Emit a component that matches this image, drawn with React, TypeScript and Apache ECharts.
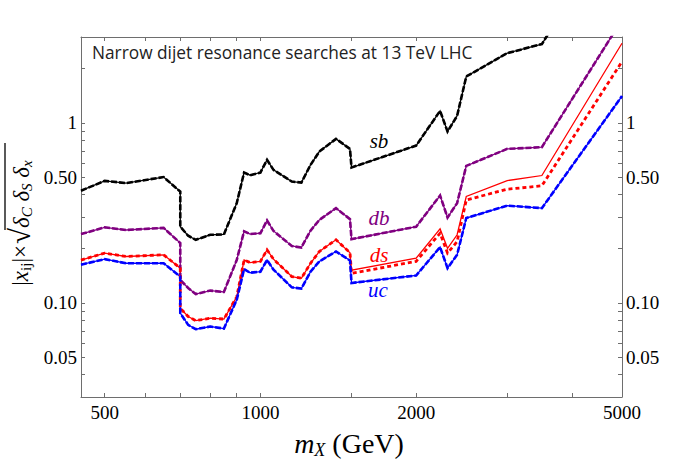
import React, { useEffect, useRef } from "react";
import * as echarts from "echarts";

// Resonance mass (GeV)
const massGeV = [450, 500, 550, 650, 700, 700, 725, 750, 800, 850, 900, 930, 955, 1000, 1030, 1060, 1150, 1200, 1250, 1300, 1400, 1490, 1500, 2000, 2225, 2300, 2400, 2500, 3000, 3500, 5000];
// Upper limits on |x_ij| x sqrt(dC dS dx)
const sbLimit = [0.42, 0.476, 0.463, 0.5, 0.415, 0.265, 0.236, 0.224, 0.239, 0.24, 0.358, 0.53, 0.512, 0.53, 0.623, 0.548, 0.472, 0.466, 0.584, 0.693, 0.815, 0.717, 0.565, 0.748, 1.166, 0.895, 1.094, 1.81, 2.44, 2.74, 14];
const dbLimit = [0.241, 0.263, 0.254, 0.261, 0.215, 0.134, 0.121, 0.112, 0.117, 0.115, 0.173, 0.25, 0.241, 0.244, 0.287, 0.251, 0.207, 0.203, 0.252, 0.289, 0.336, 0.292, 0.226, 0.265, 0.395, 0.298, 0.358, 0.577, 0.717, 0.733, 3.74];
const dsLimit = [0.173, 0.189, 0.181, 0.185, 0.156, 0.0934, 0.084, 0.0797, 0.0822, 0.0813, 0.108, 0.173, 0.1675, 0.17, 0.197, 0.175, 0.14, 0.137, 0.166, 0.193, 0.224, 0.19, 0.152, 0.177, 0.258, 0.201, 0.239, 0.39, 0.478, 0.51, 2.77];
const dsLimitAlt = [0.173, 0.189, 0.181, 0.185, 0.156, 0.0934, 0.084, 0.0797, 0.0822, 0.0813, 0.108, 0.173, 0.1675, 0.17, 0.197, 0.175, 0.14, 0.137, 0.166, 0.193, 0.224, 0.19, 0.146, 0.17, 0.244, 0.189, 0.219, 0.373, 0.428, 0.447, 2.19];
const ucLimit = [0.163, 0.175, 0.166, 0.166, 0.14, 0.0877, 0.0755, 0.0714, 0.0739, 0.072, 0.104, 0.154, 0.147, 0.149, 0.173, 0.153, 0.122, 0.12, 0.149, 0.17, 0.193, 0.172, 0.129, 0.142, 0.204, 0.156, 0.185, 0.296, 0.347, 0.336, 1.41];

const xRange = [450, 5000];
const yRange = [0.03, 3];
const xLabelTicks = [500, 1000, 2000, 5000];
const xAllTicks = [500, 600, 700, 800, 900, 1000, 1500, 2000, 3000, 4000, 5000];
const yLabelTicks = [0.05, 0.1, 0.5, 1];
const yAllTicks = [0.04, 0.05, 0.06, 0.07, 0.08, 0.09, 0.1, 0.2, 0.3, 0.4, 0.5, 0.6, 0.7, 0.8, 0.9, 1, 2];

const L = Math.log10;
const FRAME = "#6e6e6e";
const SERIF = "'Liberation Serif', 'DejaVu Serif', serif";

function pts(vals: number[]) {
  return massGeV.map((m, i) => [L(m), L(vals[i])]);
}

function xFmt(v: number) {
  return String(Math.round(Math.pow(10, v)));
}
function yFmt(v: number) {
  const x = Math.pow(10, v);
  if (Math.abs(x - 1) < 1e-6) return "1";
  return x.toFixed(2);
}

function xAxisDef(pos: "bottom" | "top", labels: boolean) {
  return {
    type: "value",
    position: pos,
    min: L(xRange[0]),
    max: L(xRange[1]),
    axisLine: { show: true, onZero: false, lineStyle: { color: FRAME, width: 1 } },
    axisTick: { show: true, inside: true, length: 4, customValues: xAllTicks.map(L), lineStyle: { color: FRAME } },
    axisLabel: {
      show: labels,
      customValues: xLabelTicks.map(L),
      formatter: xFmt,
      margin: 6,
      color: "#000",
      fontFamily: SERIF,
      fontSize: 19,
    },
    splitLine: { show: false },
  };
}

function yAxisDef(pos: "left" | "right") {
  return {
    type: "value",
    position: pos,
    min: L(yRange[0]),
    max: L(yRange[1]),
    axisLine: { show: true, onZero: false, lineStyle: { color: FRAME, width: 1 } },
    axisTick: { show: true, inside: true, length: 4, customValues: yAllTicks.map(L), lineStyle: { color: FRAME } },
    axisLabel: {
      show: true,
      customValues: yLabelTicks.map(L),
      formatter: yFmt,
      margin: 4,
      color: "#000",
      fontFamily: SERIF,
      fontSize: 19,
    },
    splitLine: { show: false },
  };
}

function line(name: string, vals: number[], color: string, width: number, type: any, z: number) {
  return {
    name,
    type: "line",
    data: pts(vals),
    showSymbol: false,
    symbol: "none",
    clip: true,
    z,
    lineStyle: { color, width, type, cap: "butt", join: "miter" },
  };
}

export default function App() {
  const ref = useRef<HTMLDivElement>(null);
  useEffect(() => {
    if (!ref.current) return;
    const chart = echarts.init(ref.current, null, { renderer: "svg" });
    const purple = "#800080";
    const option: any = {
      animation: false,
      backgroundColor: "#fff",
      grid: { left: 81, top: 37, right: 70, bottom: 66, containLabel: false },
      xAxis: [xAxisDef("bottom", true), xAxisDef("top", false)],
      yAxis: [yAxisDef("left"), yAxisDef("right")],
      series: [
        line("sb", sbLimit, "#000", 1.3, "solid", 2),
        line("sb alt", sbLimit, "#000", 2.6, [6, 2], 3),
        line("db", dbLimit, purple, 1.3, "solid", 2),
        line("db alt", dbLimit, purple, 2.6, [6, 2], 3),
        line("ds", dsLimit, "#ff0000", 1.3, "solid", 2),
        line("ds alt", dsLimitAlt, "#ff0000", 2.8, [4, 3], 3),
        line("uc", ucLimit, "#0000ff", 1.3, "solid", 2),
        line("uc alt", ucLimit, "#0000ff", 2.6, [6, 2], 3),
      ],
      graphic: [
        {
          type: "text",
          x: 92,
          y: 52,
          style: {
            text: "Narrow dijet resonance searches at 13 TeV LHC",
            font: "17.3px 'Open Sans', sans-serif",
            fill: "#222",
            align: "left",
            verticalAlign: "middle",
          },
          z: 10,
        },
        { type: "text", x: 379, y: 141, style: { text: "sb", font: `italic 21px ${SERIF}`, fill: "#000", align: "center", verticalAlign: "middle" }, z: 10 },
        { type: "text", x: 379, y: 218, style: { text: "db", font: `italic 21px ${SERIF}`, fill: purple, align: "center", verticalAlign: "middle" }, z: 10 },
        { type: "text", x: 379, y: 255, style: { text: "ds", font: `italic 21px ${SERIF}`, fill: "#ff0000", align: "center", verticalAlign: "middle" }, z: 10 },
        { type: "text", x: 378, y: 290, style: { text: "uc", font: `italic 21px ${SERIF}`, fill: "#0000ff", align: "center", verticalAlign: "middle" }, z: 10 },
        {
          type: "text",
          x: 349,
          y: 443,
          style: {
            text: "{i|m}{s|X}{n| (GeV)}",
            align: "center",
            verticalAlign: "middle",
            rich: {
              i: { fontFamily: SERIF, fontStyle: "italic", fontSize: 28, lineHeight: 32, fill: "#000" },
              s: { fontFamily: SERIF, fontStyle: "italic", fontSize: 18, lineHeight: 18, verticalAlign: "bottom", fill: "#000" },
              n: { fontFamily: SERIF, fontSize: 28, lineHeight: 32, fill: "#000" },
            },
          },
          z: 10,
        },
        {
          type: "group",
          x: 20,
          y: 218,
          rotation: Math.PI / 2,
          z: 10,
          children: [
            {
              type: "text",
              x: -27,
              y: 0,
              style: {
                text: "{n||}{i|x}{s|ij}{n||×}",
                align: "right",
                verticalAlign: "middle",
                rich: {
                  n: { fontFamily: SERIF, fontSize: 23, lineHeight: 26, fill: "#000" },
                  i: { fontFamily: SERIF, fontStyle: "italic", fontSize: 23, lineHeight: 26, fill: "#000" },
                  s: { fontFamily: SERIF, fontSize: 15, lineHeight: 14, verticalAlign: "bottom", fill: "#000" },
                },
              },
            },
            {
              type: "text",
              x: -26,
              y: 0,
              style: { text: "√", font: `29px ${SERIF}`, fill: "#000", align: "left", verticalAlign: "middle" },
            },
            {
              type: "line",
              shape: { x1: -12, y1: -15, x2: 75, y2: -15 },
              style: { stroke: "#000", lineWidth: 1.3 },
            },
            {
              type: "text",
              x: -10,
              y: 1,
              style: {
                text: "{d|δ}{s|C}{d| δ}{s|S}{d| δ}{s|x}",
                align: "left",
                verticalAlign: "middle",
                rich: {
                  d: { fontFamily: SERIF, fontStyle: "italic", fontSize: 23, lineHeight: 26, fill: "#000" },
                  s: { fontFamily: SERIF, fontStyle: "italic", fontSize: 15, lineHeight: 14, verticalAlign: "bottom", fill: "#000" },
                },
              },
            },
          ],
        },
      ],
    };
    chart.setOption(option);
    return () => chart.dispose();
  }, []);
  return <div ref={ref} style={{ position: "fixed", left: 0, top: 0, width: 692, height: 463 }} />;
}
